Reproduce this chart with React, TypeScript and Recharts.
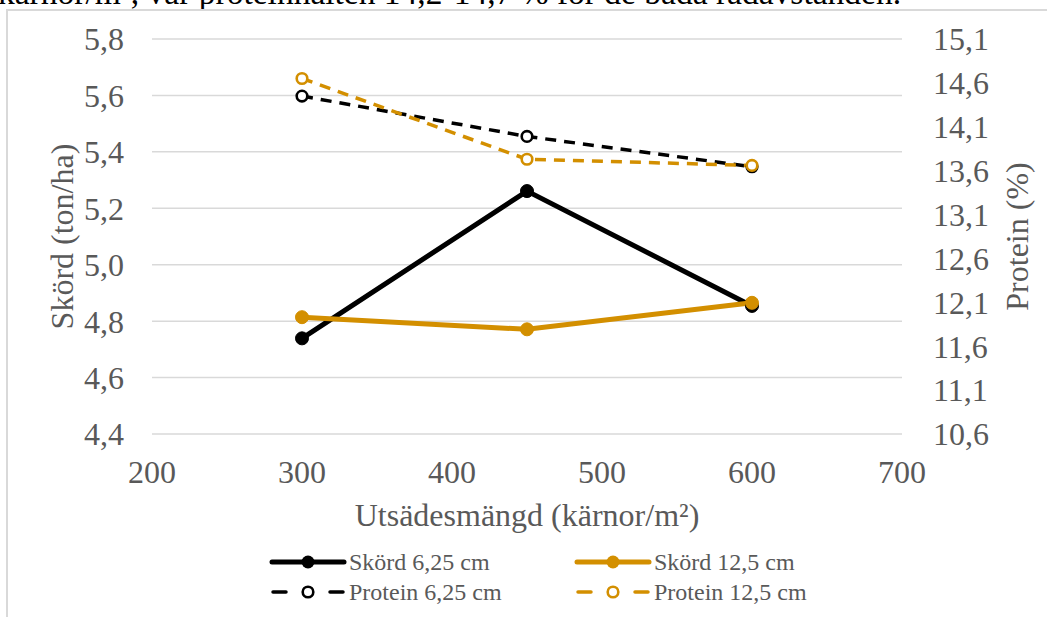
import React from 'react';
import { LineChart, Line, XAxis, YAxis, CartesianGrid, Legend } from 'recharts';

const seedRates = [300, 450, 600];
const yield625 = [4.739, 5.261, 4.854];
const yield125 = [4.814, 4.771, 4.865];
const protein625 = [14.45, 13.99, 13.645];
const protein125 = [14.65, 13.73, 13.66];

const xTicks = [200, 300, 400, 500, 600, 700];
const leftTicks = [4.4, 4.6, 4.8, 5.0, 5.2, 5.4, 5.6, 5.8];
const rightTicks = [10.6, 11.1, 11.6, 12.1, 12.6, 13.1, 13.6, 14.1, 14.6, 15.1];

const seriesNames = ['Skörd 6,25 cm', 'Skörd 12,5 cm', 'Protein 6,25 cm', 'Protein 12,5 cm'];

const BLACK = '#000000';
const GOLD = '#D38F00';
const TEXT = '#595959';
const FONT = '"Liberation Serif", serif';
const FS = 32;

const data = seedRates.map((x, i) => ({
  x,
  y625: yield625[i],
  y125: yield125[i],
  p625: protein625[i],
  p125: protein125[i],
}));

const fmt = (v: number) => v.toFixed(1).replace('.', ',');

const LeftTitle = (props: any) => {
  const vb = props.viewBox || { x: 0, y: 39, width: 152, height: 395 };
  const cx = vb.x + 62;
  const cy = vb.y + vb.height / 2;
  return (
    <text x={cx} y={cy} transform={`rotate(-90, ${cx}, ${cy})`} textAnchor="middle" dominantBaseline="central"
      fill={TEXT} fontSize={FS}>Skörd (ton/ha)</text>
  );
};

const RightTitle = (props: any) => {
  const vb = props.viewBox || { x: 902, y: 39, width: 145, height: 395 };
  const cx = vb.x + 115;
  const cy = vb.y + vb.height / 2;
  return (
    <text x={cx} y={cy} transform={`rotate(-90, ${cx}, ${cy})`} textAnchor="middle" dominantBaseline="central"
      fill={TEXT} fontSize={FS}>Protein (%)</text>
  );
};

const LegendContent = () => {
  const items = [
    { name: seriesNames[0], color: BLACK, dashed: false, col: 0, row: 0 },
    { name: seriesNames[1], color: GOLD, dashed: false, col: 1, row: 0 },
    { name: seriesNames[2], color: BLACK, dashed: true, col: 0, row: 1 },
    { name: seriesNames[3], color: GOLD, dashed: true, col: 1, row: 1 },
  ];
  return (
    <svg width={560} height={64} style={{ display: 'block', overflow: 'visible' }}>
      {items.map((it) => {
        const sx = 7 + it.col * 305;
        const cy = 17 + it.row * 30;
        return (
          <g key={it.name}>
            {it.dashed ? (
              <g>
                <line x1={sx + 1} y1={cy} x2={sx + 14} y2={cy} stroke={it.color} strokeWidth={3.5} strokeLinecap="round" />
                <line x1={sx + 58} y1={cy} x2={sx + 71} y2={cy} stroke={it.color} strokeWidth={3.5} strokeLinecap="round" />
                <circle cx={sx + 36} cy={cy} r={5.3} fill="#fff" stroke={it.color} strokeWidth={2.6} />
              </g>
            ) : (
              <g>
                <line x1={sx} y1={cy} x2={sx + 72} y2={cy} stroke={it.color} strokeWidth={5} strokeLinecap="round" />
                <circle cx={sx + 36} cy={cy} r={6.5} fill={it.color} />
              </g>
            )}
            <text x={sx + 77} y={cy + 8} fill={TEXT} fontSize={24}>{it.name}</text>
          </g>
        );
      })}
    </svg>
  );
};

const tickStyle = { fill: TEXT, fontSize: FS };

const css = `#root svg text, #root svg tspan { font-family: "Liberation Serif", serif !important; }`;

export default function App() {
  return (
    <div style={{ position: 'absolute', left: 0, top: 0, width: 1047, height: 617, overflow: 'hidden', background: '#fff', fontFamily: FONT }}>
      <style>{css}</style>
      <div style={{ position: 'absolute', left: -2, top: -24, whiteSpace: 'nowrap', fontFamily: FONT, fontSize: 33.5, lineHeight: '34px', color: '#000' }}>
        kärnor/m², var proteinhalten 14,2-14,7 % för de båda radavstånden.
      </div>
      <div style={{ position: 'absolute', left: 6, top: 9, width: 1100, height: 700, borderLeft: '2px solid #d9d9d9', borderTop: '2px solid #d9d9d9' }} />
      <div style={{ position: 'absolute', left: 0, top: 0 }}>
        <LineChart width={1047} height={617} data={data} margin={{ top: 39, right: 0, bottom: 91, left: 0 }}>
          <CartesianGrid yAxisId="left" vertical={false} horizontal={true} stroke="#d9d9d9" strokeWidth={1.5} />
          <XAxis dataKey="x" type="number" domain={[200, 700]} ticks={xTicks} interval={0}
            axisLine={false} tickLine={false} tickSize={0} tickMargin={26} height={92}
            tick={tickStyle}
            label={{ value: 'Utsädesmängd (kärnor/m²)', position: 'insideBottom', offset: 0, fill: TEXT, fontSize: FS }} />
          <YAxis yAxisId="left" orientation="left" width={152} domain={[4.4, 5.8]} ticks={leftTicks} interval={0}
            axisLine={false} tickLine={false} tickSize={0} tickMargin={28} tickFormatter={fmt}
            tick={tickStyle} label={<LeftTitle />} />
          <YAxis yAxisId="right" orientation="right" width={145} domain={[10.6, 15.1]} ticks={rightTicks} interval={0}
            axisLine={false} tickLine={false} tickSize={0} tickMargin={31} tickFormatter={fmt}
            tick={tickStyle} label={<RightTitle />} />
          <Line yAxisId="left" dataKey="y625" name={seriesNames[0]} stroke={BLACK} strokeWidth={5}
            dot={{ r: 6.5, fill: BLACK, stroke: BLACK, strokeWidth: 1 }} activeDot={false} isAnimationActive={false} />
          <Line yAxisId="left" dataKey="y125" name={seriesNames[1]} stroke={GOLD} strokeWidth={5}
            dot={{ r: 6.5, fill: GOLD, stroke: GOLD, strokeWidth: 1 }} activeDot={false} isAnimationActive={false} />
          <Line yAxisId="right" dataKey="p625" name={seriesNames[2]} stroke={BLACK} strokeWidth={3.5} strokeDasharray="11 8"
            dot={{ r: 5.3, fill: '#fff', stroke: BLACK, strokeWidth: 2.6, strokeDasharray: '0' }} activeDot={false} isAnimationActive={false} />
          <Line yAxisId="right" dataKey="p125" name={seriesNames[3]} stroke={GOLD} strokeWidth={3.5} strokeDasharray="11 8"
            dot={{ r: 5.3, fill: '#fff', stroke: GOLD, strokeWidth: 2.6, strokeDasharray: '0' }} activeDot={false} isAnimationActive={false} />
          <Legend layout="horizontal" verticalAlign="middle" align="center" content={<LegendContent />}
            wrapperStyle={{ position: 'absolute', top: 545, left: 265, width: 560, height: 64 }} />
        </LineChart>
      </div>
    </div>
  );
}
